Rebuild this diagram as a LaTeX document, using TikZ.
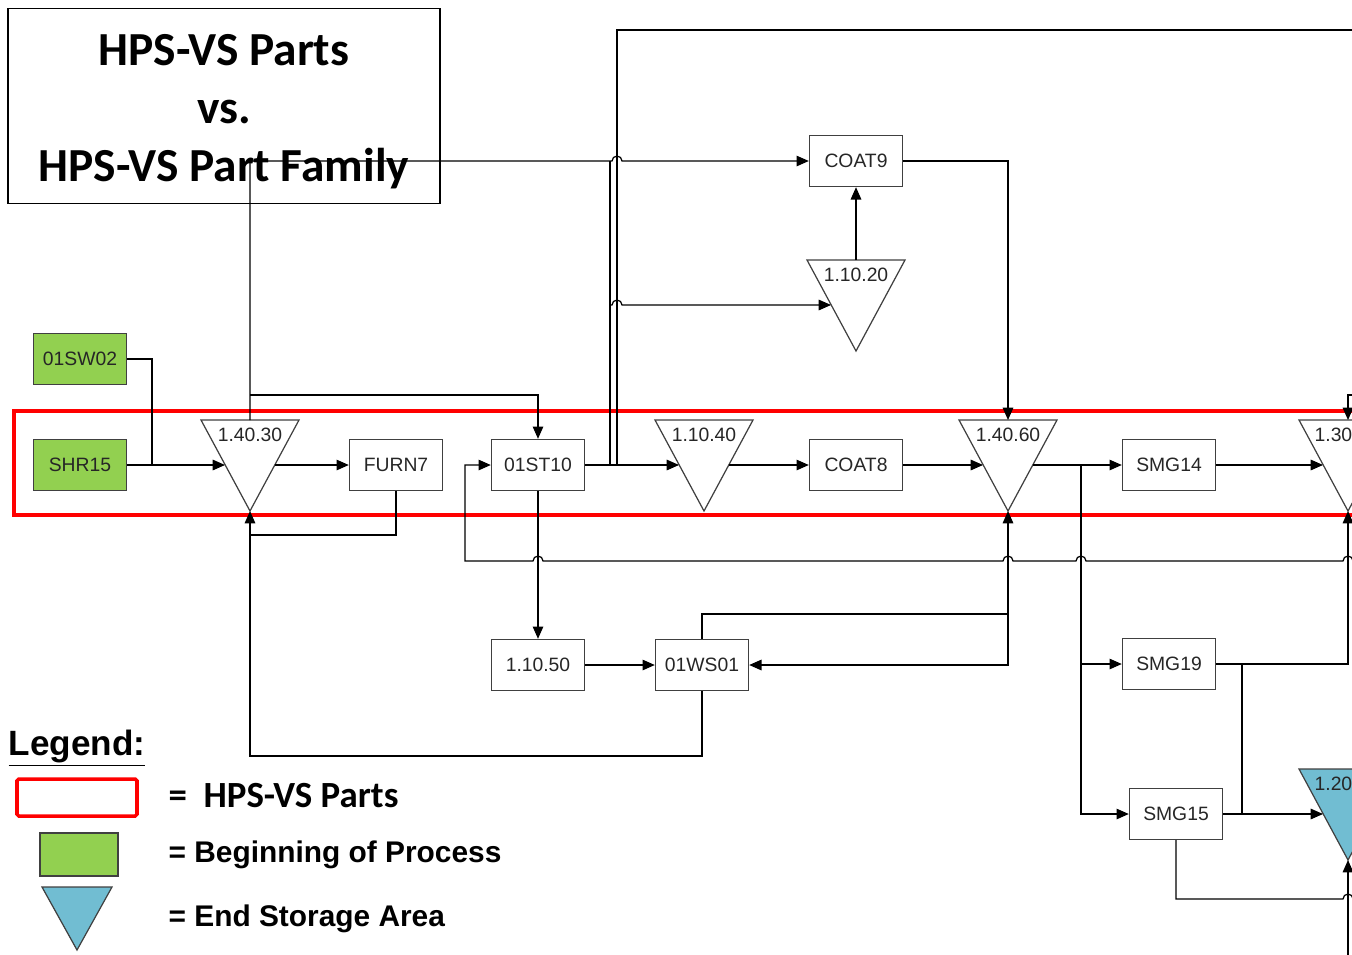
\documentclass[tikz,border=0pt]{standalone}
\usepackage{fontspec}
\setmainfont{Liberation Sans}
\newfontfamily\calibri{Carlito}
\usetikzlibrary{arrows.meta}
\definecolor{startgreen}{HTML}{92D050}
\definecolor{endblue}{HTML}{71BDD2}
\definecolor{partsred}{HTML}{FF0000}

\begin{document}
\begin{tikzpicture}[x=0.02cm, y=-0.02cm, line width=0.7pt,
    box/.style={draw=black!75, line width=0.8pt, minimum width=1.86cm,
                minimum height=1.02cm, inner sep=0pt,
                font=\fontsize{11}{13}\selectfont, text=black!85},
    start/.style={box, fill=startgreen},
    tri/.style={draw=black!75, line width=0.7pt},
    tlabel/.style={inner sep=0pt, font=\fontsize{11}{13}\selectfont, text=black!85},
    flow/.style={-{Triangle[length=7pt,width=6pt]}},
    twoway/.style={{Triangle[length=7pt,width=6pt]}-{Triangle[length=7pt,width=6pt]}},
    hps/.style={draw=partsred, line width=2pt},
    leg/.style={anchor=west, inner sep=0pt, font=\bfseries\fontsize{17}{20}\selectfont},
    titlebox/.style={draw, line width=0.9pt, minimum width=8.64cm, minimum height=3.9cm},
    titletext/.style={align=center, inner sep=0pt,
                      font=\calibri\bfseries\fontsize{27}{33}\selectfont}
  ]
  \useasboundingbox (0,0) rectangle (1352,954);
  \clip (0,0) rectangle (1352,954);

  % HPS-VS parts frame
  \draw[hps] (14,411) rectangle (1370,515);

  % process boxes
  \node[start] (sw02) at (80,359) {01SW02};
  \node[start] (shr) at (80,465) {SHR15};
  \node[box] (furn) at (396,465) {FURN7};
  \node[box] (st10) at (538,465) {01ST10};
  \node[box] (coat8) at (856,465) {COAT8};
  \node[box] (coat9) at (856,161) {COAT9};
  \node[box] (smg14) at (1169,465) {SMG14};
  \node[box] (p1050) at (538,665) {1.10.50};
  \node[box] (ws01) at (702,665) {01WS01};
  \node[box] (smg19) at (1169,664) {SMG19};
  \node[box] (smg15) at (1176,814) {SMG15};

  % storage triangles
  \foreach \n/\x/\y/\lbl in {s4030/250/465/1.40.30, s1040/704/465/1.10.40,
                             s4060/1008/465/1.40.60, s1020/856/305/1.10.20}{
    \draw[tri, fill=white] (\x-49,\y-45) -- (\x+49,\y-45) -- (\x,\y+46) -- cycle;
    \node[tlabel] (\n) at (\x,\y-30) {\lbl};
    \coordinate (\n-in) at (\x-25,\y);
    \coordinate (\n-out) at (\x+25,\y);
    \coordinate (\n-top) at (\x,\y-45);
    \coordinate (\n-tip) at (\x,\y+46);
  }
  \foreach \n/\x/\y/\lbl/\col in {s1030/1348/465/1.30/white, s120/1348/814/1.20/endblue}{
    \draw[tri, fill=\col] (\x-49,\y-45) -- (\x+49,\y-45) -- (\x,\y+46) -- cycle;
    \node[tlabel, anchor=west] (\n) at (\x-34,\y-30) {\lbl};
    \coordinate (\n-in) at (\x-25,\y);
    \coordinate (\n-top) at (\x,\y-45);
    \coordinate (\n-tip) at (\x,\y+46);
  }

  % main line
  \draw (sw02.east) -| (152,465);
  \draw[flow] (shr.east) -- (s4030-in);
  \draw[flow] (s4030-out) -- (furn.west);
  \draw (furn.south) |- (250,535);
  \draw[flow] (ws01.south) |- (250,756) -- (s4030-tip);
  \draw[flow] (s4030-top) |- (612,161) arc[start angle=180, end angle=0, radius=0.1cm]
    -- (coat9.west);
  \draw[flow] (250,395) -| (st10.north);
  \draw[flow] (st10.east) -- (s1040-in);
  \draw (610,465) -- (610,161);
  \draw (617,465) |- (1370,30);
  \draw[flow] (610,305) -- (612,305) arc[start angle=180, end angle=0, radius=0.1cm]
    -- (s1020-in);
  \draw[flow] (s1020-top) -- (coat9.south);
  \draw[flow] (coat9.east) -| (s4060-top);
  \draw[flow] (s1040-out) -- (coat8.west);
  \draw[flow] (coat8.east) -- (s4060-in);
  \draw[flow] (s4060-out) -- (smg14.west);
  \draw[flow] (smg14.east) -- (s1030-in);
  \draw[flow] (1370,395) -| (s1030-top);

  % return loop into 01ST10
  \draw[flow] (1370,561) -- (1353,561) arc[start angle=0, end angle=180, radius=0.1cm]
    -- (1086,561) arc[start angle=0, end angle=180, radius=0.1cm]
    -- (1013,561) arc[start angle=0, end angle=180, radius=0.1cm]
    -- (543,561) arc[start angle=0, end angle=180, radius=0.1cm]
    -- (465,561) |- (st10.west);

  % lower branches
  \draw[flow] (st10.south) -- (p1050.north);
  \draw[flow] (p1050) -- (ws01);
  \draw (ws01.north) |- (1008,614);
  \draw[twoway] (ws01.east) -| (s4060-tip);
  \draw[flow] (1081,465) |- (smg19.west);
  \draw[flow] (1081,465) |- (smg15.west);
  \draw[flow] (smg19.east) -| (s1030-tip);
  \draw (1242,664) -- (1242,814);
  \draw[flow] (smg15.east) -- (s120-in);
  \draw (smg15.south) |- (1343,899) arc[start angle=180, end angle=0, radius=0.1cm]
    -- (1370,899);
  \draw[flow] (1348,970) -- (s120-tip);

  % legend
  \node[anchor=west, inner sep=0pt, font=\bfseries\fontsize{20}{24}\selectfont]
    (legend) at (8,748) {\underline{Legend:}};
  \draw[hps, rounded corners=1pt] (17,779) rectangle (137,816);
  \node[leg, font=\calibri\bfseries\fontsize{21}{25}\selectfont] (l1) at (168,796)
    {=\ \ HPS-VS Parts};
  \draw[draw=black!75, fill=startgreen] (40,833) rectangle (118,876);
  \node[leg] (l2) at (168,855) {= Beginning of Process};
  \draw[tri, fill=endblue] (42,887) -- (112,887) -- (77,950) -- cycle;
  \node[leg] (l3) at (168,919) {= End Storage Area};

  % title
  \node[titlebox] (title) at (224,106) {};
  \node[titletext] (heading) at (224,112) {HPS-VS Parts\\vs.\\HPS-VS Part Family};
\end{tikzpicture}
\end{document}
